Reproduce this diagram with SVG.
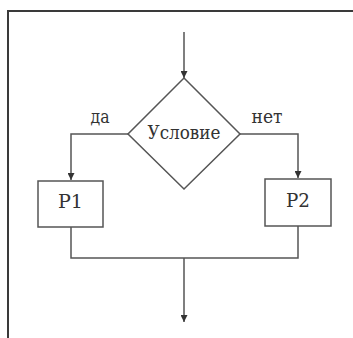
<svg xmlns="http://www.w3.org/2000/svg" width="353" height="338" viewBox="0 0 353 338">
<defs>
<style>
.frame{stroke:#3a3a3a;stroke-width:2;fill:none}
.ln{stroke:#555;stroke-width:1.5;fill:none}
.shape{stroke:#555;stroke-width:1.5;fill:#fff}
.t{font-family:'DejaVu Serif','Liberation Serif',serif;font-size:18px;fill:#333;text-anchor:middle}
</style>
<marker id="arr" viewBox="0 0 8 8" refX="8" refY="4" markerWidth="7" markerHeight="7" markerUnits="userSpaceOnUse" orient="auto">
<path d="M0,0 L8,4 L0,8 Z" fill="#333"/>
</marker>
</defs>
<rect width="353" height="338" fill="#fff"/>
<g id="frame">
<path class="frame" d="M8,338 V11 H353"/>
</g>
<g id="connectors">
<path class="ln" d="M184,32 V78" marker-end="url(#arr)"/>
<path class="ln" d="M128,134 H71 V180" marker-end="url(#arr)"/>
<path class="ln" d="M240,134 H298 V178" marker-end="url(#arr)"/>
<path class="ln" d="M71,227 V258 H298 V226"/>
<path class="ln" d="M184,258 V322" marker-end="url(#arr)"/>
</g>
<g id="condition">
<path class="shape" d="M184,78 L240,134 L184,189 L128,134 Z"/>
<text class="t" x="184" y="139" textLength="73" lengthAdjust="spacingAndGlyphs">Условие</text>
</g>
<g id="p1">
<rect class="shape" x="38" y="181" width="65" height="46"/>
<text class="t" x="70.5" y="208" textLength="25" lengthAdjust="spacingAndGlyphs">P1</text>
</g>
<g id="p2">
<rect class="shape" x="265" y="179" width="66" height="47"/>
<text class="t" x="298" y="207" textLength="24" lengthAdjust="spacingAndGlyphs">P2</text>
</g>
<g id="labels">
<text class="t" x="100" y="123" textLength="19" lengthAdjust="spacingAndGlyphs">да</text>
<text class="t" x="267" y="123" textLength="31" lengthAdjust="spacingAndGlyphs">нет</text>
</g>
</svg>
